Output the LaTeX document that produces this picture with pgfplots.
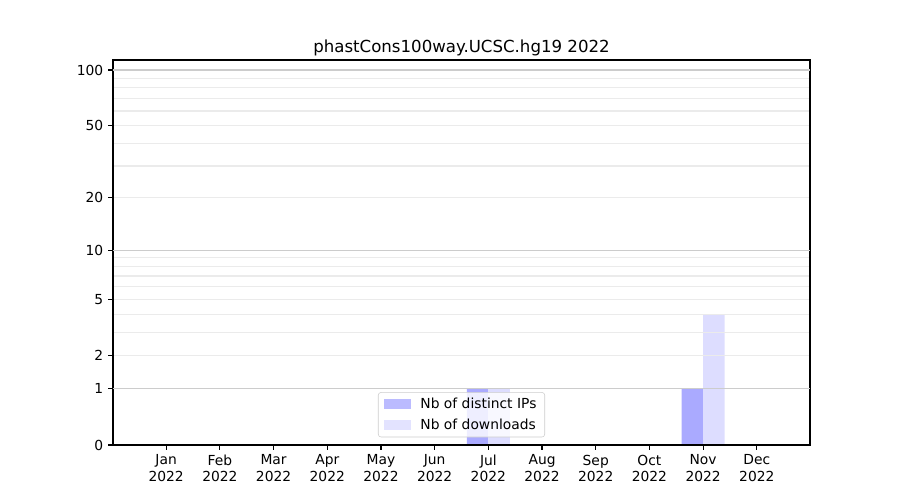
\documentclass[border=0pt]{standalone}
\usepackage{fontspec}
\setmainfont{DejaVu Sans}
\usepackage{pgfplots}
\pgfplotsset{compat=1.18}
\definecolor{ipcol}{HTML}{AAAAFF}
\definecolor{dlcol}{HTML}{DDDDFF}
\definecolor{majgrid}{HTML}{CCCCCC}
\definecolor{mingrid}{HTML}{EBEBEB}
\pgfplotsset{
  patchlegend/.style={legend image code/.code={\fill[##1, sharp corners] (0pt,-3.6pt) rectangle (19.5pt,3.6pt);}},
}
\begin{document}
\begin{tikzpicture}
\path[use as bounding box] (0,0) rectangle (9in,5in);
\begin{axis}[
  at={(1.13in,0.55in)}, anchor=south west,
  scale only axis, width=6.97in, height=3.85in,
  font=\fontsize{10}{12}\selectfont,
  /pgf/number format/assume math mode=true,
  title={phastCons100way.UCSC.hg19 2022},
  title style={at={(0.5,1)}, anchor=base, yshift=-0.01in, font=\fontsize{12}{14}\selectfont},
  xmin=-0.99, xmax=11.99,
  ymin=0, ymax=113.2,
  y coord trafo/.code={\pgfmathparse{log10(1+#1)}},
  y coord inv trafo/.code={\pgfmathparse{10^(#1)-1}},
  xtick={0,...,11},
  xticklabels={Jan\\2022,Feb\\2022,Mar\\2022,Apr\\2022,May\\2022,Jun\\2022,Jul\\2022,Aug\\2022,Sep\\2022,Oct\\2022,Nov\\2022,Dec\\2022},
  xticklabel style={align=center},
  ytick={0,1,2,5,10,20,50,100},
  yticklabels={0,1,2,5,10,20,50,100},
  minor ytick={2,3,4,5,6,7,8,9,20,30,40,50,60,70,80,90},
  yminorgrids=true,
  minor grid style={mingrid, line width=0.8pt},
  minor tick length=0pt,
  extra y ticks={1,10,100},
  extra y tick labels={},
  extra y tick style={grid=major, major grid style={majgrid, line width=0.8pt}, major tick length=0pt},
  tick align=outside,
  major tick length=3.5pt,
  tick style={black, line width=0.8pt},
  xtick pos=bottom, ytick pos=left,
  axis line style={line width=0.8pt},
  axis on top,
  legend style={at={(0.5,0.02)}, anchor=south, draw=majgrid, rounded corners=2pt,
    fill=white, fill opacity=0.8, text opacity=1, inner xsep=4pt, inner ysep=2pt,
    row sep=2pt,
    /tikz/every odd column/.append style={column sep=5pt},
    font=\fontsize{10}{12}\selectfont},
  legend cell align=left,
]
\addplot[ybar, bar width=0.4, bar shift=-0.2, fill=ipcol, draw=none, patchlegend]
  coordinates {(0,0) (1,0) (2,0) (3,0) (4,0) (5,0) (6,1) (7,0) (8,0) (9,0) (10,1) (11,0)};
\addlegendentry{Nb of distinct IPs}
\addplot[ybar, bar width=0.4, bar shift=0.2, fill=dlcol, draw=none, patchlegend]
  coordinates {(0,0) (1,0) (2,0) (3,0) (4,0) (5,0) (6,1) (7,0) (8,0) (9,0) (10,4) (11,0)};
\addlegendentry{Nb of downloads}
\end{axis}
\end{tikzpicture}
\end{document}
